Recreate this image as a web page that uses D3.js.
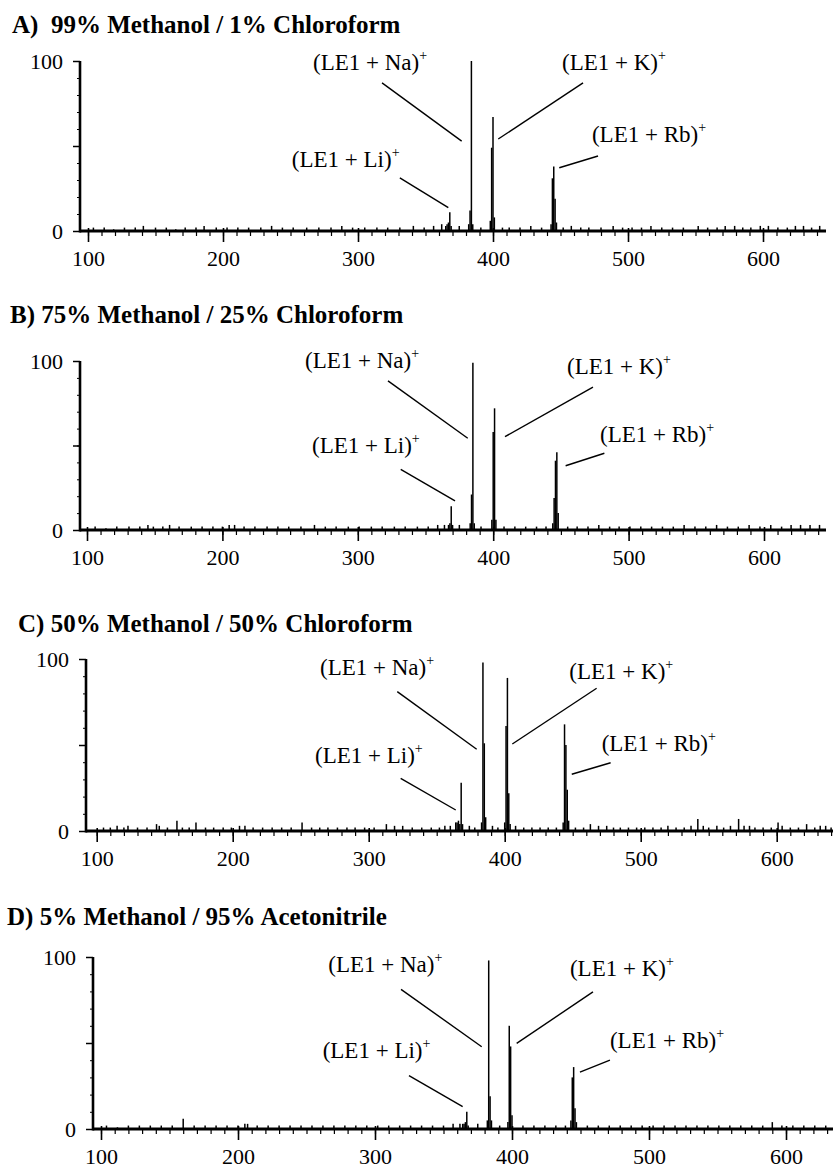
<!DOCTYPE html>
<html>
<head>
<meta charset="utf-8">
<script src="https://cdn.jsdelivr.net/npm/d3@7"></script>
<style>
  body { margin: 0; background: #fff; }
  svg { display: block; }
  svg text { font-family: "Liberation Serif", "DejaVu Serif", serif; }
</style>
</head>
<body>
<div class="svg-container"></div>
<script>
// ---- data ----
const mz_ticks = [100, 200, 300, 400, 500, 600];
const intensity_ticks = [0, 100];
const panel_titles = [
  "A)  99% Methanol / 1% Chloroform",
  "B) 75% Methanol / 25% Chloroform",
  "C) 50% Methanol / 50% Chloroform",
  "D) 5% Methanol / 95% Acetonitrile"
];
const ion_names = ["Li", "Na", "K", "Rb"];

// adduct peaks [m/z, relative intensity]
const peaks_a = [[365,3],[366,4],[367,5],[368,11],[369,3],[382,4],[383,12],[384,100],[385,4],
  [398,6],[399,49],[400,67],[401,8],[443,4],[444,31],[445,38],[446,19],[447,5]];
const peaks_b = [[367,3],[368,4],[369,14],[370,3],[383,4],[384,21],[385,99],[386,4],
  [399,6],[400,58],[401,72],[402,6],[444,4],[445,19],[446,41],[447,46],[448,10]];
const peaks_c = [[364,5],[365,5],[366,6],[367,4],[368,28],[369,4],[383,5],[384,98],[385,51],[386,8],
  [400,5],[401,61],[402,89],[403,22],[404,4],[443,5],[444,62],[445,50],[446,24],[447,6]];
const peaks_d = [[364,3],[365,3],[366,4],[367,10],[368,2],[382,5],[383,98],[384,19],[385,5],
  [397,4],[398,60],[399,48],[400,8],[443,5],[444,30],[445,36],[446,12],[447,4]];

// baseline noise spikes [m/z, relative intensity]
const noise_a = [[104,2],[112,2],[119,1],[127,2],[135,2],[141,3],[150,2],[158,2],[165,1],[172,2],[180,2],
  [186,3],[195,2],[203,2],[211,2],[219,2],[228,2],[236,3],[244,2],[252,2],[262,2],[271,2],[280,2],[288,3],
  [296,2],[305,2],[314,2],[322,2],[331,2],[341,3],[349,2],[356,3],[362,4],[375,3],[391,2],[407,2],[412,2],
  [420,2],[428,3],[436,2],[452,2],[458,3],[465,2],[471,2],[480,2],[489,3],[496,2],[503,2],[510,2],[517,3],
  [525,2],[533,2],[541,2],[552,3],[559,2],[566,2],[572,3],[579,3],[585,2],[591,2],[598,3],[604,3],[611,2],
  [618,2],[624,3],[630,3],[636,2],[642,3]];
const noise_b = [[106,2],[114,1],[122,2],[131,2],[139,2],[145,3],[149,2],[156,2],[161,3],[168,2],[177,2],
  [185,2],[193,2],[200,2],[205,3],[209,3],[216,2],[224,2],[233,2],[241,2],[249,2],[258,2],[268,3],[276,2],
  [284,2],[293,2],[301,2],[310,2],[318,2],[327,2],[335,2],[344,2],[352,2],[359,3],[364,3],[375,3],[391,2],
  [408,2],[416,2],[424,2],[432,2],[439,2],[455,2],[462,2],[470,2],[478,3],[486,2],[493,2],[501,2],[509,2],
  [517,2],[525,2],[533,2],[541,3],[549,2],[557,2],[565,3],[573,2],[581,2],[589,3],[597,2],[605,3],[613,2],
  [620,3],[627,3],[634,3],[641,3]];
const noise_c = [[105,2],[110,2],[115,3],[120,2],[123,3],[130,2],[137,2],[144,4],[146,3],[152,2],[159,6],
  [163,2],[168,2],[173,5],[180,2],[186,2],[193,2],[199,2],[205,3],[209,3],[215,2],[222,2],[229,2],[236,2],
  [243,2],[251,5],[258,2],[264,2],[270,2],[277,2],[284,2],[290,2],[297,2],[304,2],[313,4],[319,3],[325,3],
  [332,2],[339,2],[346,2],[352,2],[356,3],[360,3],[374,3],[378,2],[391,3],[395,2],[408,3],[414,2],[420,2],
  [426,2],[432,2],[438,2],[452,2],[458,2],[463,4],[469,3],[475,3],[480,2],[485,2],[491,2],[497,2],[503,2],
  [509,2],[515,2],[520,3],[526,2],[532,2],[537,3],[542,7],[546,3],[550,2],[556,3],[561,2],[566,3],[572,7],
  [576,3],[580,3],[584,2],[590,2],[596,2],[601,5],[604,3],[610,2],[616,2],[622,4],[628,2],[632,3],[636,3],[640,2]];
const noise_d = [[104,2],[112,1],[120,2],[128,2],[136,2],[144,2],[152,2],[160,6],[168,2],[176,2],[184,2],
  [192,2],[200,2],[205,3],[207,3],[214,2],[222,2],[230,2],[238,2],[246,2],[254,2],[262,2],[270,2],[278,2],
  [286,2],[294,2],[302,2],[310,2],[318,2],[326,2],[334,2],[342,2],[350,2],[357,3],[362,3],[375,3],[391,2],
  [408,2],[416,2],[424,2],[432,2],[439,2],[455,2],[463,2],[471,2],[479,2],[487,2],[495,2],[503,2],[511,2],
  [519,2],[527,2],[535,2],[543,2],[551,2],[559,2],[567,2],[575,2],[583,2],[590,4],[597,2],[605,2],[613,2],
  [621,2],[629,2],[637,2]];

const peak_sets = [peaks_a, peaks_b, peaks_c, peaks_d];
const noise_sets = [noise_a, noise_b, noise_c, noise_d];

// ---- layout (pixels) + label placement in axis units [m/z, intensity] ----
const layout = [
  { x100: 88, x600: 763, y0: 231, y100: 61, axisX: 80, axisEnd: 826, titleX: 12, titleY: 33,
    notes: [ { label: [251, 37.6], from: [331, 31.2], to: [366.9, 13.7] },
             { label: [266.7, 94.7], from: [317.8, 87.1], to: [376.8, 52.9] },
             { label: [451.1, 94.7], from: [466.7, 87.1], to: [403.9, 54.1] },
             { label: [473.3, 52.4], from: [477.8, 44.1], to: [449.1, 37.2] } ] },
  { x100: 87, x600: 764, y0: 530, y100: 361, axisX: 80, axisEnd: 826, titleX: 10, titleY: 323,
    notes: [ { label: [266.2, 45.6], from: [331.7, 35.9], to: [371.8, 17.2] },
             { label: [261, 95.9], from: [322.3, 88.2], to: [381.2, 54.3] },
             { label: [454.5, 92.3], from: [473.7, 84.6], to: [408.7, 55.2] },
             { label: [478.9, 52.1], from: [482.1, 45.4], to: [453.5, 38] } ] },
  { x100: 96.7, x600: 776.7, y0: 831, y100: 659, axisX: 86, axisEnd: 833, titleX: 18, titleY: 632,
    notes: [ { label: [260.5, 39.5], from: [323.5, 30.6], to: [364, 12.2] },
             { label: [264.2, 90.7], from: [321, 81], to: [379.4, 47.5] },
             { label: [447.5, 88.4], from: [467.6, 83], to: [405.6, 50.6] },
             { label: [471.3, 46.5], from: [477.9, 39.7], to: [449.3, 33] } ] },
  { x100: 101, x600: 786, y0: 1129, y100: 957, axisX: 93, axisEnd: 833, titleX: 7, titleY: 925,
    notes: [ { label: [261.8, 41.3], from: [324.8, 31], to: [364, 13] },
             { label: [265.9, 91.3], from: [319, 81.2], to: [377.9, 47.8] },
             { label: [442.3, 89], from: [459.1, 79.7], to: [403.4, 49.8] },
             { label: [471.5, 47.1], from: [471.5, 40.1], to: [449.6, 33.1] } ] }
];

const serif = "'Liberation Serif', 'DejaVu Serif', serif";

const svg = d3.select(".svg-container")
  .append("svg")
  .attr("width", 833)
  .attr("height", 1170)
  .attr("font-family", serif);

function draw_panel(i) {
  const p = layout[i];
  const g = svg.append("g").attr("class", "panel-" + i);

  const x = d3.scaleLinear().domain([100, 600]).range([p.x100, p.x600]);
  const y = d3.scaleLinear().domain([0, 100]).range([p.y0, p.y100]);

  g.append("text")
    .attr("x", p.titleX)
    .attr("y", p.titleY)
    .attr("font-size", 25)
    .attr("font-weight", "bold")
    .style("font-family", serif)
    .style("white-space", "pre")
    .text(panel_titles[i]);

  // spectrum sticks
  const sticks = noise_sets[i].concat(peak_sets[i]);
  g.append("g")
    .selectAll("line")
    .data(sticks)
    .join("line")
    .attr("x1", d => x(d[0]))
    .attr("x2", d => x(d[0]))
    .attr("y1", y(0))
    .attr("y2", d => y(d[1]))
    .attr("stroke", "#000")
    .attr("stroke-width", 1.5);

  // minor x ticks
  const x_end = x.invert(p.axisEnd);
  const minor_x = d3.range(100, x_end, 10);
  g.append("g")
    .attr("transform", "translate(0," + p.y0 + ")")
    .call(d3.axisBottom(x).tickValues(minor_x).tickSize(5).tickFormat(""))
    .call(a => a.select(".domain").remove())
    .selectAll("line").attr("stroke-width", 1.2);

  // major x ticks + labels
  const gx = g.append("g")
    .attr("transform", "translate(0," + p.y0 + ")")
    .call(d3.axisBottom(x).tickValues(mz_ticks).tickSize(11).tickPadding(8));
  gx.select(".domain").remove();
  gx.selectAll("line").attr("stroke-width", 1.6).attr("y1", -3);
  gx.selectAll("text").attr("font-size", 22).style("font-family", serif);

  // y axis: minor ticks, 50 tick without label, 0/100 labelled
  g.append("g")
    .attr("transform", "translate(" + p.axisX + ",0)")
    .call(d3.axisLeft(y).tickValues(d3.range(10, 100, 10)).tickSize(3).tickFormat(""))
    .call(a => a.select(".domain").remove())
    .selectAll("line").attr("stroke-width", 1);
  g.append("g")
    .attr("transform", "translate(" + p.axisX + ",0)")
    .call(d3.axisLeft(y).tickValues([50]).tickSize(7).tickFormat(""))
    .call(a => a.select(".domain").remove())
    .selectAll("line").attr("stroke-width", 1.5);
  const gy = g.append("g")
    .attr("transform", "translate(" + p.axisX + ",0)")
    .call(d3.axisLeft(y).tickValues(intensity_ticks).tickSize(7).tickPadding(10));
  gy.select(".domain").remove();
  gy.selectAll("line").attr("stroke-width", 1.5);
  gy.selectAll("text").attr("font-size", 22).style("font-family", serif);

  // frame lines: thick baseline and y axis
  g.append("line")
    .attr("x1", p.axisX).attr("x2", p.axisEnd)
    .attr("y1", y(0)).attr("y2", y(0))
    .attr("stroke", "#000").attr("stroke-width", 3);
  g.append("line")
    .attr("x1", p.axisX).attr("x2", p.axisX)
    .attr("y1", y(100)).attr("y2", y(0) + 1.5)
    .attr("stroke", "#000").attr("stroke-width", 2.6);

  // ion labels with leader lines
  p.notes.forEach((n, k) => {
    g.append("line")
      .attr("x1", x(n.from[0])).attr("y1", y(n.from[1]))
      .attr("x2", x(n.to[0])).attr("y2", y(n.to[1]))
      .attr("stroke", "#000").attr("stroke-width", 1.4);
    const t = g.append("text")
      .attr("x", x(n.label[0]))
      .attr("y", y(n.label[1]))
      .attr("font-size", 23)
      .style("font-family", serif);
    t.append("tspan").text("(LE1 + " + ion_names[k] + ")");
    t.append("tspan").attr("dy", -10).attr("font-size", 14).text("+");
  });
}

panel_titles.forEach((d, i) => draw_panel(i));
</script>
</body>
</html>
